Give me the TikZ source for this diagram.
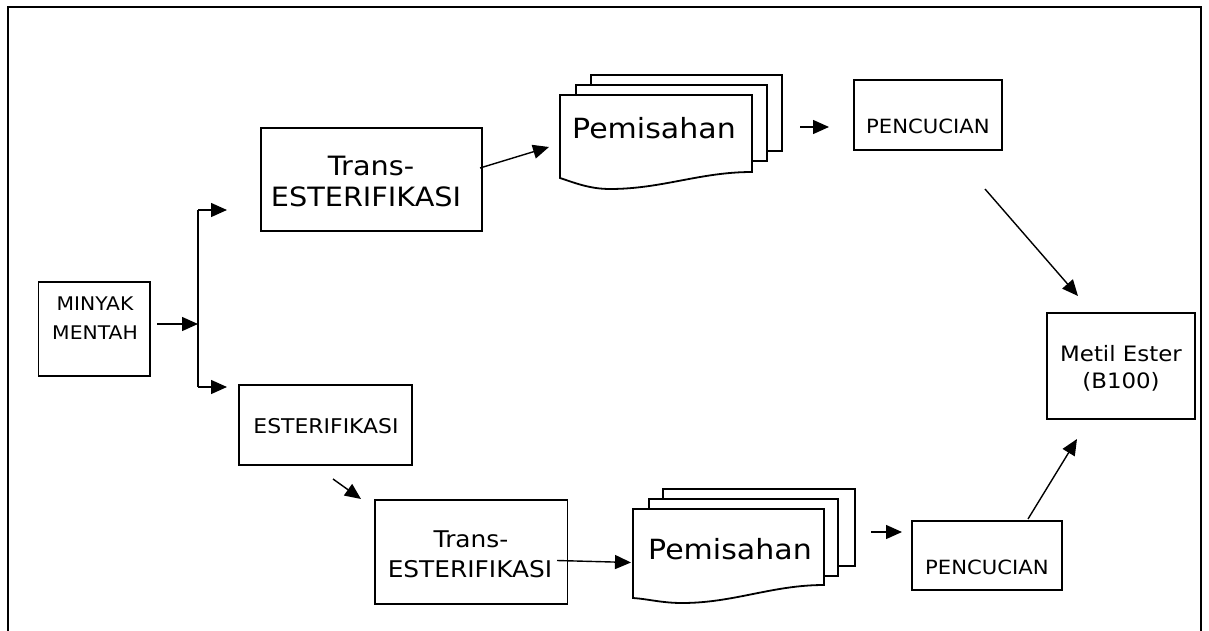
\documentclass[tikz,border=0pt]{standalone}
\usepackage{fontspec}
\setmainfont{DejaVu Sans}[FakeStretch=1.08]
\usetikzlibrary{arrows.meta}

\tikzset{
  box/.style={draw, line width=1.8pt, inner sep=0pt, fill=white},
  page/.style={draw, line width=1.8pt, fill=white},
  arr/.style={line width=1.4pt, -{Triangle[length=16pt,width=14pt]}},
  lbl/.style={anchor=base, inner sep=0pt},
  big/.style={font=\fontsize{26.6}{30}\selectfont},
  bigb/.style={font=\fontsize{23}{27}\selectfont},
  doc/.style={font=\fontsize{27.8}{32}\selectfont},
  small/.style={font=\fontsize{18.8}{22}\selectfont},
  pencfont/.style={font=\fontsize{19.6}{23}\selectfont},
}

\begin{document}
\begin{tikzpicture}[x=1pt, y=-1pt]
\useasboundingbox (0,0) rectangle (1209,631);

% outer frame (open at the bottom edge of the page)
\draw[line width=1.4pt] (8,640) -- (8,7) -- (1201,7) -- (1201,640);

% process boxes
\node[box, minimum width=111.5pt, minimum height=94pt]  (minyak) at (94.25,329) {};
\node[box, minimum width=221pt,   minimum height=103pt] (transA) at (371.5,179.5) {};
\node[box, minimum width=148pt,   minimum height=70pt]  (pencA)  at (928,115) {};
\node[box, minimum width=148pt,   minimum height=106pt] (metil)  at (1121,366) {};
\node[box, minimum width=173pt,   minimum height=80pt]  (ester)  at (325.5,425) {};
\node[box, minimum width=192.5pt, minimum height=104pt] (transB) at (471.25,552) {};
\node[box, minimum width=150pt,   minimum height=69pt]  (pencB)  at (987,555.5) {};

% multi-document shapes (upper)
\draw[page] (591,75) rectangle (782,151);
\draw[page] (576,85) rectangle (767,161);
\draw[page] (560,95) -- (752,95) -- (752,172)
  .. controls (700,172) and (662,189) .. (610,189)
  .. controls (590,189) and (575,183) .. (560,178) -- cycle;
% multi-document shapes (lower)
\draw[page] (663,489) rectangle (855,566);
\draw[page] (649,499) rectangle (838,576);
\draw[page] (633,509) -- (824,509) -- (824,585)
  .. controls (772,585) and (734,603) .. (682,603)
  .. controls (662,603) and (648,599) .. (633,598) -- cycle;

% labels
\node[lbl, small] (minyak1) at (95,310) {MINYAK};
\node[lbl, small] (minyak2) at (95,339) {MENTAH};
\node[lbl, big] (transA1) at (371,176) {Trans-};
\node[lbl, big] (transA2) at (366,206) {ESTERIFIKASI};
\node[lbl, doc] (pemA) at (654,139) {Pemisahan};
\node[lbl, pencfont] (pencA1) at (928,134) {PENCUCIAN};
\node[lbl, font=\fontsize{21.2}{25}\selectfont] (metil1) at (1121,361) {Metil Ester};
\node[lbl, font=\fontsize{21.2}{25}\selectfont] (metil2) at (1121,388) {(B100)};
\node[lbl, font=\fontsize{20.3}{24}\selectfont] (ester1) at (326,433) {ESTERIFIKASI};
\node[lbl, bigb] (transB1) at (471,547) {Trans-};
\node[lbl, bigb] (transB2) at (470,577) {ESTERIFIKASI};
\node[lbl, doc] (pemB) at (730,559) {Pemisahan};
\node[lbl, pencfont] (pencB1) at (987,574) {PENCUCIAN};

% connector end points
\coordinate (mOut) at (157,324);
\coordinate (split) at (198,324);
\coordinate (splitT) at (198,210);
\coordinate (splitB) at (198,387);
\coordinate (toTransA) at (227,210);
\coordinate (toEster) at (227,387);
\coordinate (tAout) at (480,168);
\coordinate (pAin) at (549,147);
\coordinate (pAout) at (800,127);
\coordinate (cAin) at (829,127);
\coordinate (cAout) at (985,189);
\coordinate (mInT) at (1078,296);
\coordinate (cBout) at (1028,519);
\coordinate (mInB) at (1077,439);
\coordinate (eOut) at (333,479);
\coordinate (tBin) at (361,499);
\coordinate (tBout) at (557,560.5);
\coordinate (pBin) at (631,562.5);
\coordinate (pBout) at (871,532);
\coordinate (cBin) at (902,532);

% connectors
\draw[arr] (mOut) -- (split);
\draw[line width=1.4pt] (splitB) -- (splitT);
\draw[arr] (splitT) -- (toTransA);
\draw[arr] (splitB) -- (toEster);
\draw[arr] (tAout) -- (pAin);
\draw[arr] (pAout) -- (cAin);
\draw[arr] (cAout) -- (mInT);
\draw[arr] (cBout) -- (mInB);
\draw[arr] (eOut) -- (tBin);
\draw[arr] (tBout) -- (pBin);
\draw[arr] (pBout) -- (cBin);
\end{tikzpicture}
\end{document}
